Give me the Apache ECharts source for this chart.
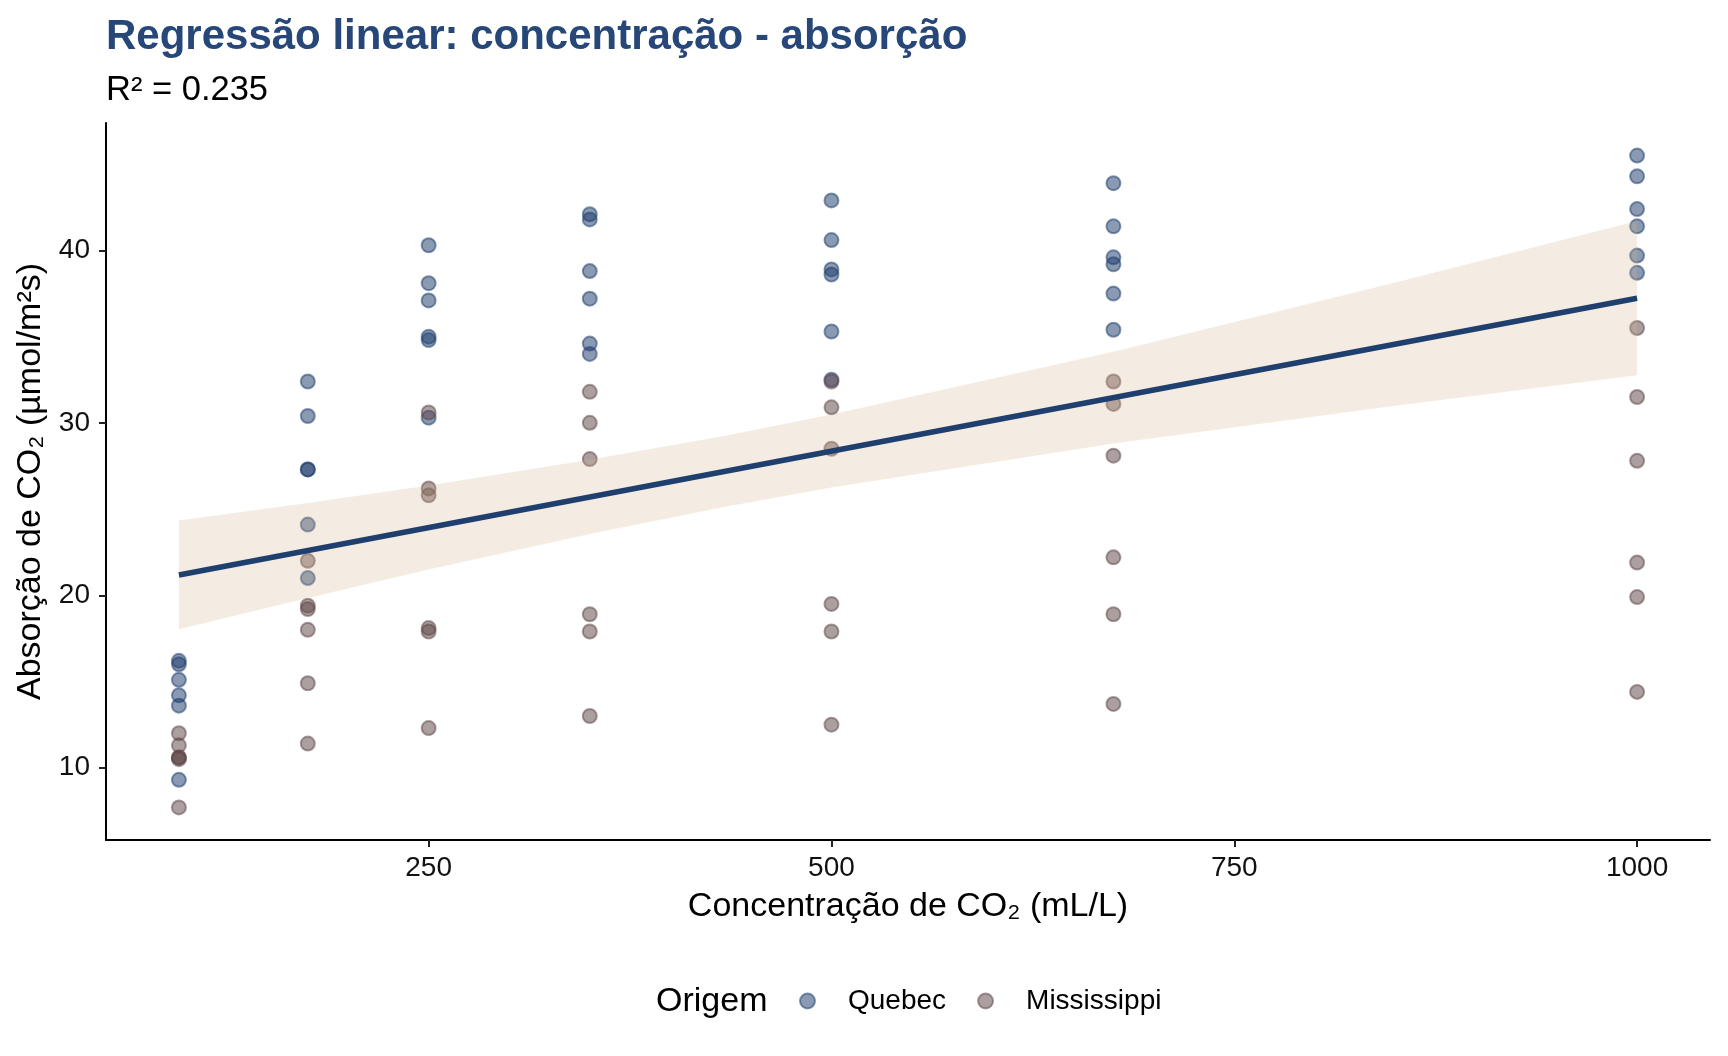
<!DOCTYPE html>
<html>
<head>
<meta charset="utf-8">
<script src="https://cdn.jsdelivr.net/npm/echarts@6/dist/echarts.min.js"></script>
<style>
html,body{margin:0;padding:0;background:#fff;}
#chart{width:1728px;height:1056px;}
</style>
</head>
<body>
<div id="chart"></div>
<script>
// ---- data ----
const conc = [95, 175, 250, 350, 500, 675, 1000];
// uptake per plant (one row per plant, one value per concentration)
const quebecPlants = [
  [16.0, 30.4, 34.8, 37.2, 35.3, 39.2, 39.7],
  [13.6, 27.3, 37.1, 41.8, 40.6, 41.4, 44.3],
  [16.2, 32.4, 40.3, 42.1, 42.9, 43.9, 45.5],
  [14.2, 24.1, 30.3, 34.6, 32.5, 35.4, 38.7],
  [9.3, 27.3, 35.0, 38.8, 38.6, 37.5, 42.4],
  [15.1, 21.0, 38.1, 34.0, 38.9, 39.6, 41.4]
];
const mississippiPlants = [
  [10.6, 19.2, 26.2, 30.0, 30.9, 32.4, 35.5],
  [12.0, 22.0, 30.6, 31.8, 32.4, 31.1, 31.5],
  [11.3, 19.4, 25.8, 27.9, 28.5, 28.1, 27.8],
  [10.5, 14.9, 18.1, 18.9, 19.5, 22.2, 21.9],
  [7.7, 11.4, 12.3, 13.0, 12.5, 13.7, 14.4],
  [10.6, 18.0, 17.9, 17.9, 17.9, 18.9, 19.9]
];
// regression line and 95% confidence band
const fitX = [95, 1000];
const fitY = [21.18, 37.23];
const bandX  = [95, 175, 250, 350, 435, 500, 675, 850, 1000];
const bandLo = [18.03, 19.85, 21.49, 23.56, 25.15, 26.25, 28.81, 31.00, 32.76];
const bandHi = [24.34, 25.36, 26.37, 27.86, 29.27, 30.48, 34.13, 38.14, 41.70];
// ticks and texts
const xTicks = [250, 500, 750, 1000];
const yTicks = [10, 20, 30, 40];
const groupNames = ['Quebec', 'Mississippi'];
const titleText = 'Regressão linear: concentração - absorção';
const subtitleText = 'R² = 0.235';
const xName = 'Concentração de CO₂ (mL/L)';
const yName = 'Absorção de CO₂ (µmol/m²s)';
const legendTitle = 'Origem';

// ---- build ----
const toPairs = plants => plants.flatMap(p => p.map((v, i) => [conc[i], v]));
const quebecPts = toPairs(quebecPlants);
const missPts = toPairs(mississippiPlants);
const allY = quebecPts.concat(missPts).map(d => d[1]);
const yMinD = Math.min(...allY), yMaxD = Math.max(...allY);
const xMinD = Math.min(...conc), xMaxD = Math.max(...conc);
const yPad = (yMaxD - yMinD) * 0.05, xPad = (xMaxD - xMinD) * 0.05;

const FONT = '"Liberation Sans", Arial, sans-serif';
const chart = echarts.init(document.getElementById('chart'), null, {renderer: 'canvas'});

const ptStyle = (rgb) => ({
  color: 'rgba(' + rgb + ',0.65)',
  borderColor: 'rgba(' + rgb + ',0.65)',
  borderWidth: 2
});

chart.setOption({
  animation: false,
  backgroundColor: '#ffffff',
  title: [
    {text: titleText, left: 106, top: 16, padding: 0,
     textStyle: {fontFamily: FONT, fontSize: 42, fontWeight: 'bold', color: '#264778'}},
    {text: subtitleText, left: 106, top: 73, padding: 0,
     textStyle: {fontFamily: FONT, fontSize: 34.5, fontWeight: 'normal', color: '#000'}}
  ],
  grid: {left: 106, right: 18, top: 123, bottom: 216, containLabel: false, outerBoundsMode: 'none'},
  legend: {
    data: groupNames,
    left: 794, top: 982,
    itemWidth: 15, itemHeight: 15, itemGap: 31,
    icon: 'circle',
    textStyle: {fontFamily: FONT, fontSize: 28, color: '#000', padding: [0, 0, 0, 28]}
  },
  graphic: [{
    type: 'text', left: 656, top: 985,
    style: {text: legendTitle, font: '34px ' + FONT, fill: '#000'}
  }],
  xAxis: {
    type: 'value',
    min: xMinD - xPad, max: xMaxD + xPad,
    name: xName, nameLocation: 'middle', nameGap: 50,
    nameTextStyle: {fontFamily: FONT, fontSize: 34, color: '#000'},
    axisLine: {show: true, lineStyle: {color: '#000', width: 2}},
    axisTick: {show: true, length: 7, lineStyle: {color: '#222', width: 2}, customValues: xTicks},
    axisLabel: {customValues: xTicks, fontFamily: FONT, fontSize: 28, color: '#111', margin: 14,
                formatter: v => String(v)},
    splitLine: {show: false}
  },
  yAxis: {
    type: 'value',
    min: yMinD - yPad, max: yMaxD + yPad,
    name: yName, nameLocation: 'middle', nameGap: 57, nameRotate: 90,
    nameTextStyle: {fontFamily: FONT, fontSize: 34, color: '#000'},
    axisLine: {show: true, lineStyle: {color: '#000', width: 2}},
    axisTick: {show: true, length: 7, lineStyle: {color: '#222', width: 2}, customValues: yTicks},
    axisLabel: {customValues: yTicks, fontFamily: FONT, fontSize: 28, color: '#111', margin: 16,
                formatter: v => String(v)},
    splitLine: {show: false}
  },
  series: [
    {name: groupNames[0], type: 'scatter', data: quebecPts, symbolSize: 14,
     itemStyle: ptStyle('30,62,110'), emphasis: {disabled: true}, z: 2},
    {name: groupNames[1], type: 'scatter', data: missPts, symbolSize: 14,
     itemStyle: ptStyle('95,70,72'), emphasis: {disabled: true}, z: 2},
    {name: 'band', type: 'custom', z: 3, silent: true,
     data: bandX.map((x, i) => [x, bandLo[i], bandHi[i]]),
     encode: {x: 0, y: [1, 2]},
     renderItem: function (params, api) {
       if (params.dataIndex !== 0) return null;
       const up = bandX.map((x, i) => api.coord([x, bandHi[i]]));
       const lo = bandX.map((x, i) => api.coord([x, bandLo[i]])).reverse();
       return {type: 'polygon', shape: {points: up.concat(lo)},
               style: {fill: 'rgba(210,180,140,0.25)', stroke: null}};
     }},
    {name: 'fit', type: 'line', z: 4, silent: true, symbol: 'none',
     data: fitX.map((x, i) => [x, fitY[i]]),
     lineStyle: {color: '#1F3F6E', width: 5.5}}
  ]
});
</script>
</body>
</html>
